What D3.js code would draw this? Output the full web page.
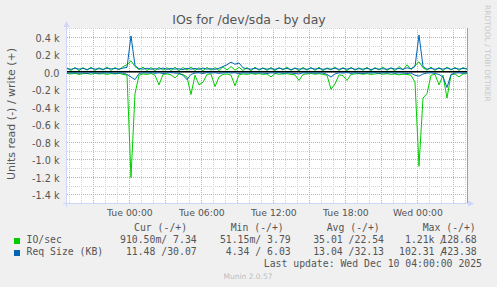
<!DOCTYPE html>
<html>
<head>
<meta charset="utf-8">
<script src="https://cdn.jsdelivr.net/npm/d3@7"></script>
<style>
body { margin: 0; background: #f0f0f0; }
svg { display: block; }
text { font-family: "DejaVu Sans", sans-serif; fill: #555; }
.mono { font-family: "DejaVu Sans Mono", monospace; font-size: 9.8px; white-space: pre; }
</style>
</head>
<body>
<svg width="497" height="287"></svg>
<script>
// 20 minute samples, Mon 18:48 .. Wed 04:08
var startTime = new Date(2025, 11, 8, 18, 48);
var endTime = new Date(2025, 11, 10, 4, 8);
var stepMinutes = 20;

var ioWrite = [45,15,50,12,48,18,52,14,45,20,55,15,48,22,58,80,125,60,25,52,
  15,48,12,50,18,45,15,52,12,48,20,55,15,45,12,50,18,48,15,55,
  20,60,18,50,15,48,12,52,18,45,15,50,12,48,20,55,15,45,12,50,
  18,48,15,52,12,45,20,55,15,48,12,50,18,45,15,52,12,48,20,55,
  15,45,12,60,20,80,25,70,115,45,18,52,15,48,12,55,20,50,15,48,30];
var ioRead = [20,25,18,30,22,20,28,18,25,22,30,20,25,18,30,40,1210,250,40,25,
  30,20,40,150,30,25,35,70,25,30,60,260,40,150,120,30,25,170,60,30,
  25,40,160,35,25,30,20,28,22,30,25,60,20,28,25,22,30,35,100,30,
  25,20,28,22,30,40,200,140,35,45,100,30,25,20,28,22,30,25,20,28,
  22,30,25,35,28,30,40,120,1080,300,250,40,30,150,40,300,35,25,60,25,20];
var reqWrite = [35,28,40,30,38,25,42,30,35,28,40,32,38,30,42,50,410,70,35,30,
  40,28,35,30,42,28,38,30,35,25,40,30,38,28,42,30,35,28,40,60,
  80,110,85,100,45,35,30,40,28,38,30,35,28,42,30,38,25,40,30,35,
  28,42,30,38,28,35,30,40,28,38,30,42,28,35,30,40,25,38,30,35,
  28,42,30,38,28,45,35,60,420,60,30,40,28,38,30,42,28,40,30,38,32];
var reqRead = [12,15,10,18,12,20,10,14,18,12,15,10,20,12,15,30,60,90,20,12,
  15,10,18,12,20,14,10,15,18,40,90,30,15,12,20,10,15,12,18,14,
  10,15,12,20,12,15,10,18,12,15,20,12,15,10,18,12,15,20,25,12,
  15,10,18,12,15,30,60,25,12,15,10,18,12,15,20,12,15,10,18,12,
  15,10,18,12,15,20,15,40,50,25,15,12,20,30,60,180,30,15,12,18,12];

var yTicks = [-1400,-1200,-1000,-800,-600,-400,-200,0,200,400];
var legendHeads = ["Cur (-/+)", "Min (-/+)", "Avg (-/+)", "Max (-/+)"];
var seriesNames = ["IO/sec", "Req Size (KB)"];
var seriesColors = ["#00cc00", "#0066b3"];
var curVals = ["910.50m/ 7.34", "11.48 /30.07"];
var minVals = ["51.15m/ 3.79", "4.34 / 6.03"];
var avgVals = ["35.01 /22.54", "13.04 /32.13"];
var maxRead = ["1.21k", "102.31"];
var maxWrite = ["128.68", "423.38"];

var svg = d3.select("svg");
var plotLeft = 67, plotRight = 467, plotTop = 28, plotBottom = 203;

var x = d3.scaleTime().domain([startTime, endTime]).range([plotLeft, plotRight]);
var y = d3.scaleLinear().domain([-1500, 500]).range([plotBottom, plotTop]);

function timeAt(i) { return new Date(startTime.getTime() + i * stepMinutes * 60000); }

svg.append("rect")
.attr("x", plotLeft).attr("y", plotTop)
.attr("width", plotRight - plotLeft).attr("height", plotBottom - plotTop)
.attr("fill", "#fff");

// grid
var grid = svg.append("g").attr("stroke-dasharray", "1,1").attr("stroke-width", 1);
var hours = d3.timeHour.range(startTime, endTime);
grid.selectAll(".vg").data(hours).enter().append("line")
.attr("x1", function(d){ return Math.round(x(d)) + 0.5; })
.attr("x2", function(d){ return Math.round(x(d)) + 0.5; })
.attr("y1", plotTop).attr("y2", plotBottom)
.attr("stroke", function(d){ return d.getHours() % 3 == 0 ? "#e3a3a3" : "#d2d2d2"; });

var yMinor = d3.range(-1500, 501, 100);
grid.selectAll(".hg").data(yMinor).enter().append("line")
.attr("x1", plotLeft).attr("x2", plotRight)
.attr("y1", function(d){ return Math.round(y(d)) + 0.5; })
.attr("y2", function(d){ return Math.round(y(d)) + 0.5; })
.attr("stroke", function(d){ return (d % 200 == 0 && d != 0) ? "#e3a3a3" : "#d2d2d2"; });

// zero line
svg.append("line")
.attr("x1", plotLeft).attr("x2", plotRight)
.attr("y1", y(0)).attr("y2", y(0))
.attr("stroke", "#000").attr("stroke-width", 1.6);

// series
var lineUp = d3.line().x(function(d, i){ return x(timeAt(i)); }).y(function(d){ return y(d); });
var lineDown = d3.line().x(function(d, i){ return x(timeAt(i)); }).y(function(d){ return y(-d); });

var plot = svg.append("g").attr("fill", "none").attr("stroke-width", 1);
plot.append("path").attr("d", lineDown(ioRead)).attr("stroke", seriesColors[0]);
plot.append("path").attr("d", lineUp(ioWrite)).attr("stroke", seriesColors[0]);
plot.append("path").attr("d", lineDown(reqRead)).attr("stroke", seriesColors[1]);
plot.append("path").attr("d", lineUp(reqWrite)).attr("stroke", seriesColors[1]);

// frame / axes
svg.append("line").attr("x1", plotRight + 0.5).attr("x2", plotRight + 0.5).attr("y1", plotTop).attr("y2", plotBottom)
.attr("stroke", "#a0a0a0").attr("stroke-width", 1);
svg.append("line").attr("x1", plotLeft - 4).attr("x2", plotRight + 3).attr("y1", plotBottom + 0.5).attr("y2", plotBottom + 0.5)
.attr("stroke", "#cfd6f8");
svg.append("line").attr("x1", plotLeft - 0.5).attr("x2", plotLeft - 0.5).attr("y1", plotBottom + 4).attr("y2", plotTop - 4)
.attr("stroke", "#cfd6f8");
svg.append("path").attr("d", "M468,200.5L474,203.5L468,206.5Z").attr("fill", "#cfd6f8");
svg.append("path").attr("d", "M63.5,27L66.5,21L69.5,27Z").attr("fill", "#cfd6f8");

var xAxis = d3.axisBottom(x)
.tickValues(d3.timeHour.every(6).range(startTime, endTime))
.tickFormat(d3.timeFormat("%a %H:%M"))
.tickSize(0).tickPadding(6.4);
var gx = svg.append("g").attr("transform", "translate(0," + plotBottom + ")").call(xAxis);
gx.select(".domain").remove();
gx.selectAll("text").style("font-family", "DejaVu Sans").style("font-size", "9.3px").attr("fill", "#555");

var yAxis = d3.axisLeft(y)
.tickValues(yTicks)
.tickFormat(function(d){ return d == 0 ? "0.0" : (d / 1000).toFixed(1) + " k"; })
.tickSize(0).tickPadding(7.5);
var gy = svg.append("g").attr("transform", "translate(" + plotLeft + ",0)").call(yAxis);
gy.select(".domain").remove();
gy.selectAll("text").attr("dy", "0.45em").style("font-family", "DejaVu Sans").style("font-size", "9.7px").attr("fill", "#555");

// texts
svg.append("text")
.attr("x", 249).attr("y", 24)
.attr("text-anchor", "middle")
.style("font-size", "12.5px")
.text("IOs for /dev/sda - by day");

svg.append("text")
.attr("transform", "translate(15,114) rotate(-90)")
.attr("text-anchor", "middle")
.style("font-size", "11px")
.text("Units read (-) / write (+)");

svg.append("text")
.attr("transform", "translate(485,5) rotate(90)")
.style("font-size", "7.5px")
.style("fill", "#c8c8c8")
.text("RRDTOOL / TOBI OETIKER");

// legend
var headX = [134, 230.7, 326.7, 422.7];
svg.selectAll(".head").data(legendHeads).enter().append("text")
.attr("class", "mono")
.attr("x", function(d, i){ return headX[i]; })
.attr("y", 231)
.text(function(d){ return d; });

var rowY = [243, 255];
seriesNames.forEach(function(name, i) {
  svg.append("rect").attr("x", 14).attr("y", rowY[i] - 5).attr("width", 6).attr("height", 6)
  .attr("fill", seriesColors[i]);
  svg.append("text").attr("class", "mono").attr("x", 26.5).attr("y", rowY[i]).text(name);
  svg.append("text").attr("class", "mono").attr("x", 196.7).attr("y", rowY[i]).attr("text-anchor", "end").text(curVals[i]);
  svg.append("text").attr("class", "mono").attr("x", 290.7).attr("y", rowY[i]).attr("text-anchor", "end").text(minVals[i]);
  svg.append("text").attr("class", "mono").attr("x", 384).attr("y", rowY[i]).attr("text-anchor", "end").text(avgVals[i]);
  svg.append("text").attr("class", "mono").attr("x", 434.5).attr("y", rowY[i]).attr("text-anchor", "end").text(maxRead[i]);
  svg.append("text").attr("class", "mono").attr("x", 476.7).attr("y", rowY[i]).attr("text-anchor", "end").text(maxWrite[i]);
  svg.append("text").attr("class", "mono").attr("x", 439.5).attr("y", rowY[i]).text("/");
});

svg.append("text")
.attr("class", "mono")
.attr("x", 482).attr("y", 266.5)
.attr("text-anchor", "end")
.text("Last update: Wed Dec 10 04:00:00 2025");

svg.append("text")
.attr("x", 248).attr("y", 279)
.attr("text-anchor", "middle")
.style("font-size", "7.5px")
.style("fill", "#bdbdbd")
.text("Munin 2.0.57");
</script>
</body>
</html>
